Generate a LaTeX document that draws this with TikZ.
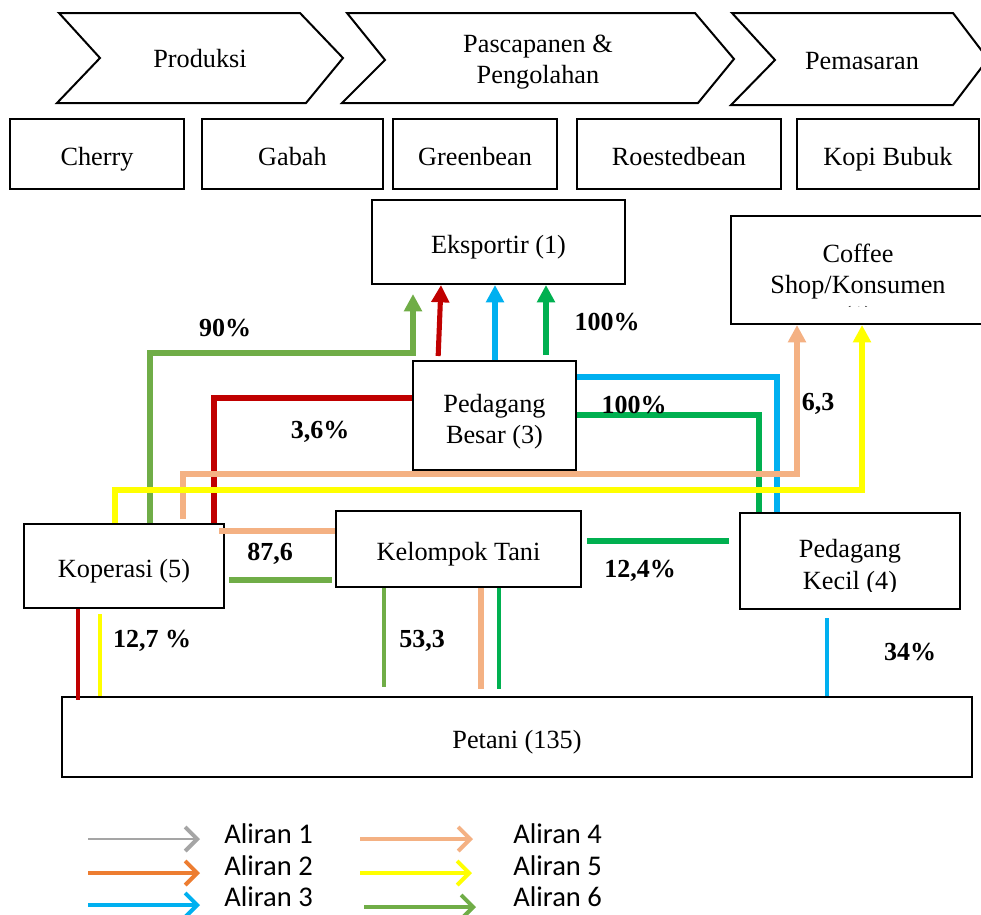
\documentclass[tikz,border=0pt]{standalone}
\usepackage{fontspec}
\setmainfont{Liberation Serif}
\newfontfamily\legfont{Carlito}
\usetikzlibrary{arrows.meta}
\definecolor{cRed}{HTML}{C00000}
\definecolor{cBlue}{HTML}{00B0F0}
\definecolor{cGreen}{HTML}{00B050}
\definecolor{cOlive}{HTML}{70AD47}
\definecolor{cSalmon}{HTML}{F4B183}
\definecolor{cYellow}{HTML}{FFFF00}
\definecolor{cOrange}{HTML}{ED7D31}
\definecolor{cGray}{HTML}{A5A5A5}
\begin{document}
\begin{tikzpicture}[x=0.75pt,y=-0.75pt,
  txt/.style={font=\fontsize{19.7}{23.5}\selectfont,align=center},
  box/.style={draw,line width=1.5pt,inner sep=0pt,txt},
  one/.style={text height=17pt,text depth=0pt},
  chev/.style={draw,line width=1.5pt,line join=miter},
  flow/.style={line width=3.8pt},
  thinflow/.style={line width=2.6pt},
  tipA/.style={-{Triangle[length=13pt,width=13pt]}},
  lbl/.style={font=\bfseries\fontsize{19.5}{23}\selectfont},
  legtxt/.style={font=\legfont\fontsize{21.4}{24}\selectfont,anchor=west,inner sep=0pt},
  legarrow/.style={line width=3pt,-{Straight Barb[length=9pt,width=18pt,line width=3pt]}}]
\useasboundingbox (0,0) rectangle (981,914);
\clip (0,0) rectangle (981,914);

% ---------- chevrons ----------
\draw[chev] (59,13) -- (300,13) -- (343,58) -- (306,103) -- (57,103) -- (100,58) -- cycle;
\node[txt] (prod) at (200,59) {Produksi};
\draw[chev] (347,13) -- (695,13) -- (734,59) -- (698,103) -- (342,103) -- (385,60) -- cycle;
\node[txt] (pasca) at (538,62) {Pascapanen \&\\Pengolahan};
\draw[chev] (732,13) -- (953,13) -- (988,59) -- (953,105) -- (731,105) -- (775,60) -- cycle;
\node[txt] (pemas) at (862,61) {Pemasaran};

% ---------- product boxes ----------
\node[box,minimum width=174*0.75pt,minimum height=70*0.75pt] (cherry) at (97,154) {};
\node[txt,one] at (cherry) {Cherry};
\node[box,minimum width=181*0.75pt,minimum height=70*0.75pt] (gabah) at (292.5,154) {};
\node[txt,one] at (gabah) {Gabah};
\node[box,minimum width=164*0.75pt,minimum height=70*0.75pt] (green) at (475,154) {};
\node[txt,one] at (green) {Greenbean};
\node[box,minimum width=204*0.75pt,minimum height=70*0.75pt] (roest) at (679,154) {};
\node[txt,one] at (roest) {Roestedbean};
\node[box,minimum width=182*0.75pt,minimum height=70*0.75pt] (kopi) at (888,154) {};
\node[txt,one] at (kopi) {Kopi Bubuk};

% ---------- actor boxes ----------
\node[box,minimum width=253*0.75pt,minimum height=84*0.75pt] (eks) at (498.5,242) {};
\node[txt,one] at (eks) {Eksportir (1)};
\node[box,minimum width=254*0.75pt,minimum height=108*0.75pt] (cof) at (858,270) {};
\begin{scope}
  \clip (731,216) rectangle (981,306);
  \node[txt,anchor=north] (coftxt) at (858,239) {Coffee\\Shop/Konsumen\\(1)};
\end{scope}
\node[box,minimum width=163*0.75pt,minimum height=109*0.75pt] (bes) at (494.5,415.5) {};
\node[txt] at (494.5,422) {Pedagang\\Besar (3)};
\node[box,minimum width=245*0.75pt,minimum height=76*0.75pt] (kt) at (458.5,549) {};
\node[txt,one] at (kt) {Kelompok Tani};
\node[box,minimum width=200*0.75pt,minimum height=84*0.75pt] (kop) at (124,566) {};
\node[txt,one] at (kop) {Koperasi (5)};
\node[box,minimum width=220*0.75pt,minimum height=96*0.75pt] (pk) at (850,561) {};
\begin{scope}
  \clip (742,515) rectangle (958,591);
  \node[txt,anchor=north] (pktxt) at (850,535) {Pedagang\\Kecil (4)};
\end{scope}
\node[box,minimum width=910*0.75pt,minimum height=80*0.75pt] (pet) at (517,737) {};
\node[txt,one] at (pet) {Petani (135)};

% ---------- flows: Pedagang Kecil -> Pedagang Besar ----------
\draw[flow,cBlue] (777,0 |- pk.north) |- (bes.east |- 0,377);
\draw[flow,cGreen] (759,0 |- pk.north) |- (bes.east |- 0,415);

% ---------- flows into Eksportir ----------
\draw[flow,cOlive,tipA,shorten >=6.75pt] (150,0 |- kop.north) |- (413,353) -- (413,0 |- eks.south);
\draw[flow,cRed,tipA,shorten <=3pt] (438,0 |- bes.north) -- (441,0 |- eks.south);
\draw[flow,cBlue,tipA] (495,0 |- bes.north) -- (495,0 |- eks.south);
\draw[flow,cGreen,tipA,shorten <=3.75pt] (546,0 |- bes.north) -- (546,0 |- eks.south);

% ---------- Koperasi -> Pedagang Besar (red) ----------
\draw[flow,cRed] (214,0 |- kop.north) |- (bes.west |- 0,398);

% ---------- Koperasi -> Coffee Shop ----------
\draw[flow,cSalmon,tipA,shorten <=3pt] (183,0 |- kop.north) |- (797,474) -- (797,0 |- cof.south);
\draw[flow,cYellow,tipA] (115,0 |- kop.north) |- (862,490) -- (862,0 |- cof.south);

% ---------- Kelompok Tani -> Koperasi ----------
\draw[flow,cSalmon,shorten <=-4.5pt] (kop.east |- 0,531) -- (kt.west |- 0,531);
\draw[flow,cOlive,shorten <=3pt,shorten >=2.25pt] (kop.east |- 0,580) -- (kt.west |- 0,580);

% ---------- Kelompok Tani -> Pedagang Kecil ----------
\draw[flow,cGreen,shorten <=3.75pt,shorten >=7.5pt] (kt.east |- 0,541) -- (pk.west |- 0,541);

% ---------- Petani -> Kelompok Tani ----------
\draw[thinflow,cOlive,shorten >=6.75pt] (384,0 |- kt.south) -- (384,0 |- pet.north);
\draw[flow,cSalmon,shorten >=5.25pt] (481,0 |- kt.south) -- (481,0 |- pet.north);
\draw[thinflow,cGreen,shorten >=5.25pt] (499,0 |- kt.south) -- (499,0 |- pet.north);

% ---------- Petani -> Koperasi / Pedagang Kecil ----------
\draw[thinflow,cRed,shorten >=-3pt] (78,0 |- kop.south) -- (78,0 |- pet.north);
\draw[thinflow,cYellow,shorten <=3.75pt] (100,0 |- kop.south) -- (100,0 |- pet.north);
\draw[thinflow,cBlue,shorten <=6pt] (827,0 |- pk.south) -- (827,0 |- pet.north);

% ---------- labels ----------
\node[lbl] (l90) at (225,328) {90\%};
\node[lbl] (l36) at (320,432) {3,6\%};
\node[lbl] (l100a) at (607,322) {100\%};
\node[lbl] (l100b) at (634,405) {100\%};
\node[lbl] (l63) at (818,404) {6,3};
\node[lbl] (l876) at (270,554) {87,6};
\node[lbl] (l124) at (640,571) {12,4\%};
\node[lbl] (l127) at (152,641) {12,7 \%};
\node[lbl] (l533) at (422,641) {53,3};
\node[lbl] (l34) at (910,652) {34\%};

% ---------- legend ----------
\coordinate (a1s) at (88,839);  \coordinate (a1e) at (200,839);
\coordinate (a2s) at (88,873);  \coordinate (a2e) at (200,873);
\coordinate (a3s) at (88,905);  \coordinate (a3e) at (200,905);
\coordinate (a4s) at (360,839); \coordinate (a4e) at (473,839);
\coordinate (a5s) at (360,873); \coordinate (a5e) at (472,873);
\coordinate (a6s) at (364,907); \coordinate (a6e) at (476,907);
\draw[legarrow,cGray,line width=2.2pt] (a1s) -- (a1e);
\draw[legarrow,cOrange] (a2s) -- (a2e);
\draw[legarrow,cBlue] (a3s) -- (a3e);
\draw[legarrow,cSalmon] (a4s) -- (a4e);
\draw[legarrow,cYellow] (a5s) -- (a5e);
\draw[legarrow,cOlive] (a6s) -- (a6e);
\node[legtxt] (t1) at (224,834) {Aliran 1};
\node[legtxt] (t2) at (224,866) {Aliran 2};
\node[legtxt] (t3) at (224,897) {Aliran 3};
\node[legtxt] (t4) at (513,834) {Aliran 4};
\node[legtxt] (t5) at (513,866) {Aliran 5};
\node[legtxt] (t6) at (513,897) {Aliran 6};
\end{tikzpicture}
\end{document}
